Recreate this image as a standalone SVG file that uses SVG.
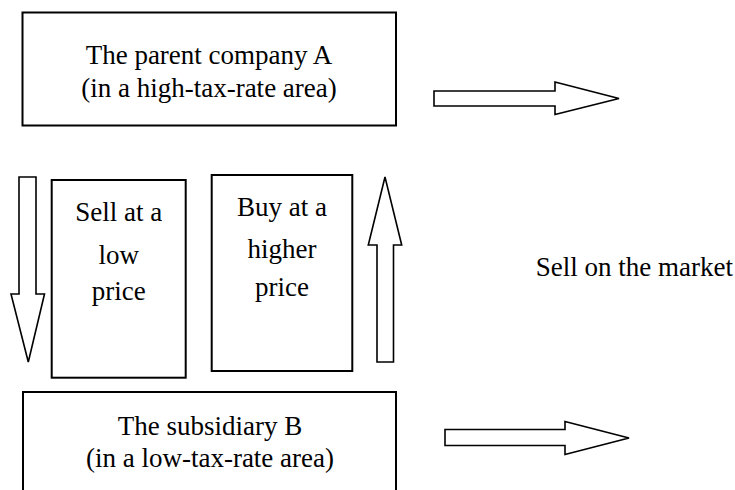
<svg xmlns="http://www.w3.org/2000/svg" width="735" height="490" viewBox="0 0 735 490">
<style>
.box{fill:#fff;stroke:#000;stroke-width:2}
.arr{fill:#fff;stroke:#000;stroke-width:1.6;stroke-linejoin:miter}
.t{font-family:'Liberation Serif','Times New Roman',Times,'DejaVu Serif',serif;font-size:27px;fill:#000;text-anchor:middle}
</style>
<rect width="735" height="490" fill="#fff"/>
<g id="parent">
<rect class="box" x="22.5" y="12.5" width="373.5" height="113"/>
<text class="t" x="209" y="64" font-family="Liberation Serif, serif">The parent company A</text>
<text class="t" x="209" y="97" font-family="Liberation Serif, serif">(in a high-tax-rate area)</text>
</g>
<g id="sell-low">
<rect class="box" x="51.7" y="180" width="134" height="197.7"/>
<text class="t" x="118.7" y="220.7" font-family="Liberation Serif, serif">Sell at a</text>
<text class="t" x="118.7" y="264" font-family="Liberation Serif, serif">low</text>
<text class="t" x="118.7" y="300" font-family="Liberation Serif, serif">price</text>
</g>
<g id="buy-high">
<rect class="box" x="211.7" y="175" width="140.6" height="196"/>
<text class="t" x="282" y="215.7" font-family="Liberation Serif, serif">Buy at a</text>
<text class="t" x="282" y="258.3" font-family="Liberation Serif, serif">higher</text>
<text class="t" x="282" y="296" font-family="Liberation Serif, serif">price</text>
</g>
<g id="subsidiary">
<rect class="box" x="23" y="392" width="373" height="110"/>
<text class="t" x="210" y="435" font-family="Liberation Serif, serif">The subsidiary B</text>
<text class="t" x="210" y="467" font-family="Liberation Serif, serif">(in a low-tax-rate area)</text>
</g>
<g id="market">
<text class="t" x="733" y="276" font-family="Liberation Serif, serif" style="text-anchor:end">Sell on the market</text>
</g>
<g id="connectors">
<polygon class="arr" points="434,91 555,91 555,82 619,98.5 555,114.5 555,106 434,106"/>
<polygon class="arr" points="445,429.5 565,429.5 565,421.5 629,438 565,454.5 565,445.5 445,445.5"/>
<polygon class="arr" points="19,177 36,177 36,294 44.5,294 28.3,362 11,294 19,294"/>
<polygon class="arr" points="377,362 393.5,362 393.5,245 401.7,245 385,177 368.3,245 377,245"/>
</g>
</svg>
